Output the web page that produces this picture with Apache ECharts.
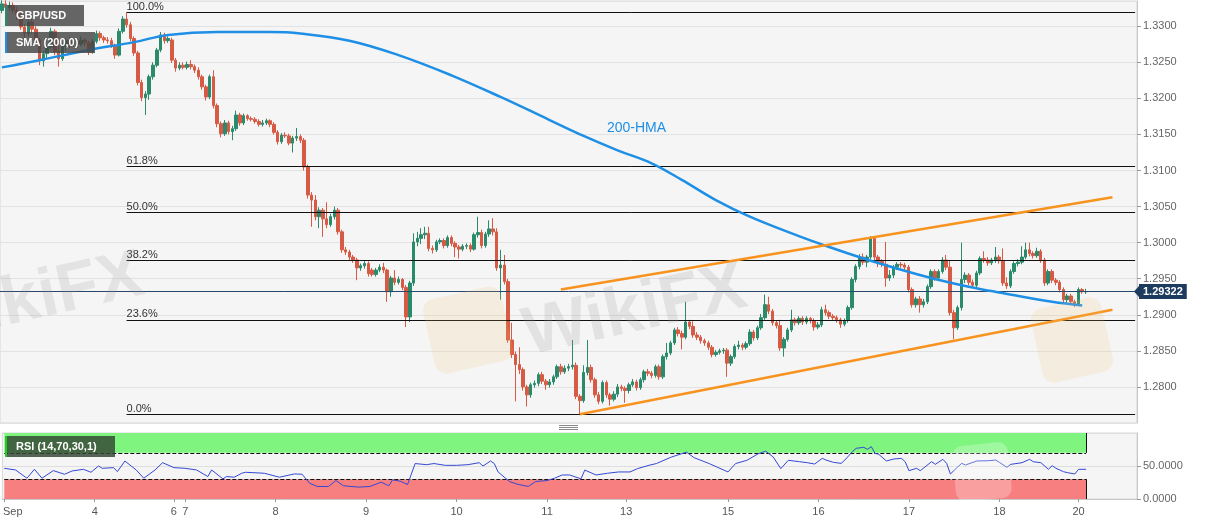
<!DOCTYPE html>
<html><head><meta charset="utf-8">
<script src="https://cdn.jsdelivr.net/npm/echarts@6/dist/echarts.min.js"></script>
<style>html,body{margin:0;padding:0;background:#fff}#c{width:1207px;height:526px}</style>
</head><body><div id="c"></div>
<script>
// Hourly GBP/USD candles: [open, close, low, high]
const candlesSep3to4 = [
[1.3322,1.3331,1.3318,1.3336],[1.3331,1.3326,1.3322,1.3336],[1.3326,1.3329,1.3321,1.3334],[1.3329,1.3322,1.3318,1.3333],
[1.3322,1.3316,1.3309,1.3327],[1.3316,1.3299,1.3295,1.3320],[1.3299,1.3290,1.3284,1.3303],[1.3290,1.3306,1.3286,1.3310],
[1.3306,1.3296,1.3290,1.3313],[1.3296,1.3281,1.3276,1.3300],[1.3281,1.3252,1.3246,1.3284],[1.3252,1.3262,1.3244,1.3266],
[1.3262,1.3271,1.3255,1.3275],[1.3271,1.3293,1.3268,1.3298],[1.3293,1.3265,1.3260,1.3296],[1.3265,1.3255,1.3244,1.3283],
[1.3255,1.3272,1.3252,1.3277],[1.3272,1.3280,1.3266,1.3284],[1.3280,1.3276,1.3270,1.3285],[1.3276,1.3279,1.3272,1.3283],
[1.3279,1.3275,1.3270,1.3282],[1.3275,1.3281,1.3272,1.3286],[1.3281,1.3277,1.3272,1.3284],[1.3277,1.3264,1.3260,1.3280],
[1.3264,1.3279,1.3262,1.3282],[1.3279,1.3290,1.3276,1.3294],[1.3290,1.3284,1.3280,1.3293],[1.3284,1.3281,1.3277,1.3287],
[1.3281,1.3280,1.3276,1.3285],[1.3280,1.3273,1.3270,1.3284],[1.3273,1.3260,1.3255,1.3276],[1.3260,1.3293,1.3258,1.3297],
[1.3293,1.3310,1.3290,1.3314],[1.3310,1.3302,1.3298,1.3319],[1.3302,1.3283,1.3279,1.3306],[1.3283,1.3263,1.3259,1.3286],
[1.3263,1.3222,1.3218,1.3266],[1.3222,1.3201,1.3196,1.3226],[1.3201,1.3206,1.3177,1.3210],[1.3206,1.3230,1.3198,1.3233],
[1.3230,1.3246,1.3226,1.3250],[1.3246,1.3267,1.3243,1.3270],[1.3267,1.3288,1.3264,1.3292],[1.3288,1.3280,1.3276,1.3291],
[1.3280,1.3283,1.3277,1.3286]
];
const candlesSep6to11 = [
[1.3281,1.3253,1.3249,1.3284],[1.3253,1.3242,1.3237,1.3256],[1.3242,1.3246,1.3239,1.3250],[1.3246,1.3243,1.3240,1.3250],
[1.3243,1.3247,1.3240,1.3251],[1.3247,1.3244,1.3240,1.3253],[1.3244,1.3239,1.3235,1.3247],[1.3239,1.3230,1.3226,1.3243],
[1.3230,1.3216,1.3212,1.3233],[1.3216,1.3202,1.3197,1.3219],[1.3202,1.3230,1.3199,1.3233],[1.3230,1.3190,1.3186,1.3239],
[1.3190,1.3165,1.3160,1.3193],[1.3165,1.3151,1.3146,1.3168],[1.3151,1.3166,1.3148,1.3170],[1.3166,1.3154,1.3150,1.3169],
[1.3154,1.3158,1.3142,1.3162],[1.3158,1.3177,1.3155,1.3183],[1.3177,1.3166,1.3162,1.3180],[1.3166,1.3176,1.3163,1.3179],
[1.3176,1.3172,1.3169,1.3178],[1.3172,1.3171,1.3168,1.3175],[1.3171,1.3168,1.3165,1.3174],[1.3168,1.3164,1.3161,1.3171],
[1.3164,1.3166,1.3161,1.3170],[1.3166,1.3169,1.3163,1.3172],[1.3169,1.3164,1.3160,1.3171],[1.3164,1.3153,1.3150,1.3167],
[1.3153,1.3140,1.3136,1.3156],[1.3140,1.3149,1.3137,1.3152],[1.3149,1.3148,1.3145,1.3153],[1.3148,1.3138,1.3135,1.3151],
[1.3138,1.3145,1.3125,1.3148],[1.3145,1.3147,1.3141,1.3159],[1.3147,1.3142,1.3138,1.3150],[1.3142,1.3105,1.3100,1.3145],
[1.3105,1.3066,1.3061,1.3108],[1.3066,1.3059,1.3022,1.3070],[1.3059,1.3036,1.3031,1.3066],[1.3036,1.3045,1.3020,1.3049],
[1.3045,1.3033,1.3008,1.3048],[1.3033,1.3025,1.3020,1.3056],[1.3025,1.3036,1.3022,1.3040],[1.3036,1.3045,1.3032,1.3050],
[1.3045,1.3015,1.3011,1.3048],[1.3015,1.2990,1.2986,1.3018],[1.2990,1.2987,1.2983,1.2994],[1.2987,1.2980,1.2976,1.2990],
[1.2980,1.2976,1.2972,1.2983],[1.2976,1.2965,1.2948,1.2979],[1.2965,1.2968,1.2961,1.2971],[1.2968,1.2971,1.2964,1.2975],
[1.2971,1.2957,1.2953,1.2974],[1.2962,1.2956,1.2953,1.2965],[1.2956,1.2962,1.2953,1.2965],[1.2962,1.2966,1.2959,1.2970],
[1.2966,1.2962,1.2958,1.2972],[1.2962,1.2932,1.2918,1.2964],[1.2932,1.2951,1.2925,1.2954],[1.2951,1.2945,1.2941,1.2962],
[1.2945,1.2949,1.2942,1.2953],[1.2949,1.2938,1.2934,1.2951],[1.2938,1.2897,1.2883,1.2941],[1.2897,1.2944,1.2890,1.2947],
[1.2944,1.3001,1.2940,1.3013],[1.3001,1.3006,1.2995,1.3015],[1.3006,1.3011,1.2998,1.3020],[1.3011,1.3013,1.3005,1.3022],
[1.3013,1.2992,1.2988,1.3022],[1.2992,1.2990,1.2985,1.2996],[1.2990,1.3001,1.2987,1.3004],[1.3001,1.3003,1.2998,1.3006],
[1.3003,1.2996,1.2992,1.3006],[1.2996,1.3007,1.2993,1.3010],[1.3007,1.2999,1.2995,1.3010],[1.2999,1.2994,1.2980,1.3002],
[1.2994,1.2991,1.2978,1.2997],[1.2991,1.2995,1.2988,1.2998],[1.2995,1.2996,1.2991,1.2999],[1.2996,1.2991,1.2987,1.2999],
[1.2991,1.3011,1.2989,1.3014],[1.3011,1.3014,1.3007,1.3036],[1.3014,1.2996,1.2992,1.3018],[1.2996,1.3012,1.2993,1.3015],
[1.3012,1.3019,1.3008,1.3031],[1.3019,1.3015,1.3010,1.3034],[1.3015,1.2965,1.2961,1.3020],[1.2965,1.2969,1.2921,1.2990],
[1.2969,1.2946,1.2942,1.2983],[1.2946,1.2865,1.2861,1.2950],[1.2865,1.2845,1.2840,1.2889],[1.2845,1.2831,1.2780,1.2849],
[1.2831,1.2824,1.2818,1.2855],[1.2824,1.2800,1.2795,1.2827],[1.2800,1.2789,1.2773,1.2803],[1.2789,1.2803,1.2785,1.2806],
[1.2803,1.2805,1.2799,1.2809],[1.2805,1.2817,1.2801,1.2820],[1.2817,1.2808,1.2804,1.2821],[1.2808,1.2803,1.2796,1.2811],
[1.2803,1.2807,1.2799,1.2811],[1.2807,1.2814,1.2803,1.2817],[1.2814,1.2828,1.2811,1.2831],[1.2828,1.2821,1.2817,1.2832],
[1.2821,1.2826,1.2818,1.2830],[1.2826,1.2828,1.2822,1.2832],[1.2828,1.2830,1.2824,1.2865],[1.2830,1.2787,1.2783,1.2834],
[1.2787,1.2781,1.2762,1.2790],[1.2781,1.2820,1.2778,1.2830],[1.2820,1.2827,1.2816,1.2865],[1.2827,1.2810,1.2806,1.2831],
[1.2810,1.2789,1.2785,1.2813],[1.2789,1.2780,1.2776,1.2793],[1.2780,1.2806,1.2777,1.2809],[1.2806,1.2789,1.2785,1.2809],
[1.2789,1.2783,1.2774,1.2792],[1.2783,1.2790,1.2780,1.2794],[1.2790,1.2800,1.2786,1.2804],[1.2800,1.2798,1.2794,1.2803]
];
const candlesSep13to18 = [
[1.2798,1.2795,1.2778,1.2801],[1.2795,1.2803,1.2791,1.2806],[1.2803,1.2807,1.2800,1.2811],[1.2807,1.2799,1.2795,1.2810],
[1.2799,1.2810,1.2796,1.2813],[1.2810,1.2821,1.2806,1.2824],[1.2821,1.2819,1.2815,1.2825],[1.2819,1.2816,1.2812,1.2822],
[1.2816,1.2828,1.2813,1.2831],[1.2828,1.2814,1.2810,1.2831],[1.2814,1.2842,1.2811,1.2845],[1.2842,1.2847,1.2838,1.2861],
[1.2847,1.2861,1.2844,1.2864],[1.2861,1.2879,1.2858,1.2882],[1.2879,1.2874,1.2870,1.2883],[1.2874,1.2869,1.2852,1.2878],
[1.2869,1.2890,1.2866,1.2918],[1.2890,1.2884,1.2880,1.2893],[1.2884,1.2872,1.2868,1.2891],[1.2872,1.2869,1.2865,1.2876],
[1.2869,1.2864,1.2860,1.2872],[1.2864,1.2861,1.2857,1.2867],[1.2861,1.2855,1.2851,1.2864],[1.2855,1.2845,1.2841,1.2858],
[1.2845,1.2848,1.2842,1.2851],[1.2848,1.2850,1.2845,1.2853],[1.2850,1.2851,1.2846,1.2854],[1.2851,1.2833,1.2814,1.2854],
[1.2833,1.2842,1.2829,1.2845],[1.2842,1.2856,1.2839,1.2859],[1.2856,1.2858,1.2852,1.2864],[1.2858,1.2855,1.2851,1.2861],
[1.2855,1.2860,1.2852,1.2863],[1.2860,1.2876,1.2857,1.2880],[1.2876,1.2868,1.2864,1.2879],[1.2868,1.2882,1.2865,1.2885],
[1.2882,1.2896,1.2879,1.2901],[1.2896,1.2914,1.2893,1.2928],[1.2914,1.2905,1.2901,1.2925],[1.2905,1.2889,1.2885,1.2908],
[1.2889,1.2885,1.2881,1.2892],[1.2885,1.2854,1.2850,1.2893],[1.2854,1.2866,1.2842,1.2869],[1.2866,1.2879,1.2863,1.2882],
[1.2879,1.2893,1.2876,1.2907],[1.2893,1.2889,1.2885,1.2896],[1.2889,1.2895,1.2886,1.2898],[1.2895,1.2890,1.2886,1.2898],
[1.2890,1.2895,1.2887,1.2898],[1.2895,1.2892,1.2888,1.2897],[1.2892,1.2883,1.2878,1.2895],[1.2883,1.2886,1.2880,1.2890],
[1.2886,1.2907,1.2883,1.2911],[1.2907,1.2903,1.2899,1.2914],[1.2903,1.2898,1.2894,1.2906],[1.2898,1.2896,1.2892,1.2901],
[1.2896,1.2893,1.2889,1.2899],[1.2893,1.2887,1.2882,1.2896],[1.2887,1.2892,1.2884,1.2895],[1.2892,1.2910,1.2889,1.2913],
[1.2910,1.2949,1.2907,1.2952],[1.2949,1.2967,1.2945,1.2970],[1.2967,1.2980,1.2963,1.2984],[1.2980,1.2973,1.2969,1.2985],
[1.2973,1.2980,1.2966,1.2983],[1.2980,1.3006,1.2977,1.3009],[1.3006,1.2980,1.2976,1.3008],[1.2980,1.2974,1.2966,1.2983],
[1.2974,1.2970,1.2966,1.2977],[1.2970,1.2951,1.2939,1.3001],[1.2951,1.2955,1.2947,1.2962],[1.2955,1.2966,1.2951,1.2969],
[1.2966,1.2970,1.2962,1.2973],[1.2970,1.2969,1.2965,1.2973],[1.2969,1.2966,1.2962,1.2972],[1.2966,1.2935,1.2931,1.2969],
[1.2935,1.2914,1.2910,1.2938],[1.2914,1.2922,1.2910,1.2925],[1.2922,1.2914,1.2903,1.2926],[1.2914,1.2918,1.2910,1.2922],
[1.2918,1.2939,1.2915,1.2942],[1.2939,1.2960,1.2936,1.2963],[1.2960,1.2951,1.2947,1.2963],[1.2951,1.2960,1.2948,1.2963],
[1.2960,1.2976,1.2957,1.2980],[1.2976,1.2966,1.2962,1.2983],[1.2966,1.2903,1.2899,1.2975],[1.2903,1.2882,1.2866,1.2907],
[1.2882,1.2910,1.2879,1.2913],[1.2910,1.2949,1.2906,1.3000],[1.2949,1.2955,1.2944,1.2959],[1.2955,1.2945,1.2941,1.2958],
[1.2945,1.2941,1.2937,1.2949],[1.2941,1.2958,1.2938,1.2961],[1.2958,1.2978,1.2955,1.2981],[1.2978,1.2976,1.2972,1.2988],
[1.2976,1.2972,1.2968,1.2980],[1.2972,1.2976,1.2969,1.2979],[1.2976,1.2980,1.2972,1.2994],[1.2980,1.2975,1.2971,1.2983],
[1.2975,1.2944,1.2940,1.2992],[1.2944,1.2940,1.2936,1.2952],[1.2940,1.2960,1.2937,1.2963],[1.2960,1.2971,1.2957,1.2974],
[1.2971,1.2973,1.2967,1.2977],[1.2973,1.2980,1.2970,1.2995],[1.2980,1.2990,1.2977,1.3000],[1.2990,1.2985,1.2981,1.3000],
[1.2985,1.2982,1.2978,1.2988],[1.2982,1.2988,1.2979,1.2993],[1.2988,1.2976,1.2972,1.2991],[1.2976,1.2944,1.2940,1.2979],
[1.2944,1.2960,1.2941,1.2963],[1.2960,1.2948,1.2944,1.2963],[1.2948,1.2945,1.2941,1.2951],[1.2945,1.2935,1.2931,1.2948],
[1.2935,1.2921,1.2917,1.2938],[1.2921,1.2926,1.2915,1.2929],[1.2926,1.2918,1.2914,1.2929],[1.2918,1.2915,1.2911,1.2921]
];
const candlesSep20 = [
[1.2915,1.2935,1.2912,1.2938],[1.2935,1.2932,1.2929,1.2937],[1.2932,1.29322,1.2929,1.2936]
];

// x-axis tick labels: [text, candle index]
const tickLabels = [['Sep',0],['4',24],['6',45],['7',48],['8',72],['9',96],['10',120],['11',144],['13',165],['15',192],['16',216],['17',240],['18',264],['20',285]];
const totalSlots = 301;

// 200-HMA line [candle index, price]
const hmaPoints = [[0,1.3243],[10,1.3253],[23,1.3267],[35,1.3278],[44,1.3288],[57,1.3292],[71,1.3292],[79,1.3290],[92,1.3280],[105,1.3260],
[119,1.3232],[132,1.3202],[145,1.3170],[154,1.3148],[163,1.3128],[172,1.3110],[180,1.3087],[189,1.3059],[198,1.3036],[211,1.3009],
[219,1.2994],[230,1.2975],[246,1.2951],[256,1.2939],[264,1.2931],[278,1.2918],[286,1.2913]];
const hmaLabel = ['200-HMA', 168, 1.3159];

// RSI(14) [candle index, value]
const rsiPoints = [[0,46.5],[3,44],[6,31.5],[8,45],[10,31.5],[13,43],[16,37.5],[18,42.5],[21,45],[23,40.5],[25,50],[26,46.5],[29,47.5],[30,41.5],
[32,57.5],[35,44],[37,31.5],[40,44],[42,55],[45,47.5],[48,46.5],[51,44],[54,34],[55,44],[58,30.5],[59,34],[61,33],[63,39],[64,40.5],[69,39],
[73,33],[77,38],[79,37.5],[81,24],[83,19],[86,19],[88,28],[90,20],[94,18],[97,19],[100,25.5],[102,20],[103,29],[105,27],[107,22],[108,38],
[109,53.7],[112,52],[114,53.7],[117,51],[120,51],[123,52],[126,55],[127,50],[129,57.6],[130,53.7],[131,41],[134,26.5],[136,22.6],[139,19],
[141,26.5],[144,28],[146,31.5],[148,36.4],[150,36.4],[153,30.5],[154,43.8],[157,36.4],[160,39],[163,41],[166,41],[168,46],[171,51],[173,53.7],
[177,63.6],[181,71],[183,62.6],[187,53.7],[192,41],[194,53.7],[197,58.6],[200,68.5],[202,72.5],[204,63.6],[206,46],[208,58.6],[211,56.5],
[213,55],[215,53],[217,61.6],[218,59],[220,55.5],[222,54],[223,59],[225,71.7],[226,76.8],[228,78.3],[229,75.3],[230,79.3],[231,69.2],[232,67.7],
[234,57.6],[236,60.6],[238,61.6],[239,56.5],[240,42.9],[242,46.5],[243,42.9],[246,56.5],[247,52.5],[249,60.1],[250,54],[251,37.9],[253,49],
[254,54],[255,51.5],[258,57.6],[261,58],[263,59],[264,55.5],[266,48],[267,52.5],[270,55],[272,60.1],[273,56.5],[275,55],[277,45],[278,50.5],
[279,46.5],[281,41.4],[282,40],[284,37.9],[285,45],[287,45]];

const fibLevels = [1.3319, 1.3106, 1.3042, 1.2975, 1.2893, 1.2762];
const fibLabels = ['100.0%', '61.8%', '50.0%', '38.2%', '23.6%', '0.0%'];
const fibStartIndex = 33;
const channelUpper = [[148, 1.2935], [294, 1.3063]];
const channelLower = [[153, 1.2762], [294, 1.2907]];
const lastPrice = 1.29322;
const rsiOverbought = 70, rsiOversold = 30;

const candles = candlesSep3to4.concat(candlesSep6to11, candlesSep13to18, candlesSep20);
const lastIdx = candles.length - 1;
const categories = Array.from({length: totalSlots}, (_, i) => String(i));
const tickMap = {};
tickLabels.forEach(([t, i]) => { tickMap[i] = t; });
const isTick = (i) => tickMap[i] !== undefined;

const FONT = "'Liberation Sans', Arial, sans-serif";
const UP = '#2a8a6c', DOWN = '#d75b44';

const fibMark = fibLevels.map((lv, k) => [
  {name: fibLabels[k], coord: [fibStartIndex, lv]},
  {coord: [totalSlots - 1, lv]}
]);

const chart = echarts.init(document.getElementById('c'), null, {renderer: 'canvas'});
chart.setOption({
  animation: false,
  backgroundColor: '#ffffff',
  textStyle: {fontFamily: FONT},
  grid: [
    {left: 0, right: 70, top: 1, height: 422, show: true, backgroundColor: '#f5f5f5', borderColor: '#d6d6d6', borderWidth: 1},
    {left: 0, right: 70, top: 433, height: 66, show: true, backgroundColor: '#f5f5f5', borderColor: '#d6d6d6', borderWidth: 1}
  ],
  xAxis: [
    {type: 'category', gridIndex: 0, data: categories, boundaryGap: true,
     axisLine: {show: false}, axisTick: {show: false}, axisLabel: {show: false}, splitLine: {show: false}},
    {type: 'category', gridIndex: 1, data: categories, boundaryGap: true,
     axisLine: {show: true, lineStyle: {color: '#c8c8c8'}},
     axisTick: {show: true, alignWithLabel: true, interval: isTick, length: 3, lineStyle: {color: '#999'}},
     axisLabel: {interval: isTick, color: '#555', fontSize: 11, fontFamily: FONT, margin: 7,
       formatter: (v, i) => i === 0 ? '{s|' + tickMap[i] + '}' : (tickMap[i] || ''),
       rich: {s: {padding: [0, 0, 0, 17], fontSize: 11, color: '#555', fontFamily: FONT}}},
     splitLine: {show: false}}
  ],
  yAxis: [
    {type: 'value', gridIndex: 0, position: 'right', min: 1.2750, max: 1.3335, interval: 0.005, scale: true,
     axisLine: {show: true, lineStyle: {color: '#c8c8c8'}},
     axisTick: {show: true, length: 4, lineStyle: {color: '#999'}},
     axisLabel: {formatter: v => v.toFixed(4), color: '#666', fontSize: 11, fontFamily: FONT, margin: 6, showMinLabel: false, showMaxLabel: false},
     splitLine: {show: true, lineStyle: {color: '#e2e2e2', width: 1}}},
    {type: 'value', gridIndex: 1, position: 'right', min: 0, max: 100, interval: 50,
     axisLine: {show: true, lineStyle: {color: '#c8c8c8'}},
     axisTick: {show: true, length: 4, lineStyle: {color: '#999'}},
     axisLabel: {formatter: v => v.toFixed(4), color: '#666', fontSize: 11, fontFamily: FONT, margin: 6, showMaxLabel: false},
     splitLine: {show: true, lineStyle: {color: '#dedede'}}}
  ],
  series: [
    {type: 'candlestick', xAxisIndex: 0, yAxisIndex: 0, data: candles, barWidth: 3, z: 3,
     itemStyle: {color: UP, color0: DOWN, borderColor: UP, borderColor0: DOWN, borderWidth: 1},
     markLine: {silent: true, symbol: ['none', 'none'], animation: false, precision: 5,
       lineStyle: {color: '#111', width: 1, type: 'solid'},
       label: {show: true, position: 'insideStartTop', formatter: '{b}', color: '#333', fontSize: 11, fontFamily: FONT, distance: 0},
       emphasis: {disabled: true},
       data: fibMark}},
    {type: 'line', xAxisIndex: 0, yAxisIndex: 0, data: hmaPoints, smooth: 0.4, showSymbol: false, z: 5,
     lineStyle: {color: '#1f8fe6', width: 2.5},
     markPoint: {silent: true, symbol: 'circle', symbolSize: 0, animation: false,
       label: {show: true, position: 'inside', formatter: hmaLabel[0], color: '#1f8fe6', fontSize: 14, fontFamily: FONT},
       data: [{coord: [hmaLabel[1], hmaLabel[2]]}]},
     markLine: {silent: true, symbol: ['none', 'none'], animation: false, precision: 5,
       lineStyle: {color: '#28476a', width: 1, type: 'solid'},
       label: {show: true, position: 'end', formatter: lastPrice.toFixed(5), color: '#fff', fontWeight: 'bold', fontSize: 11, fontFamily: FONT,
         backgroundColor: '#1d3b5e', padding: [2, 4, 2, 4], distance: 2},
       data: [{yAxis: lastPrice}]}},
    {type: 'line', xAxisIndex: 0, yAxisIndex: 0, data: channelUpper, showSymbol: false, z: 6,
     lineStyle: {color: '#f7931e', width: 2.5}},
    {type: 'line', xAxisIndex: 0, yAxisIndex: 0, data: channelLower, showSymbol: false, z: 6,
     lineStyle: {color: '#f7931e', width: 2.5}},
    {type: 'line', xAxisIndex: 1, yAxisIndex: 1, data: rsiPoints, showSymbol: false, z: 5,
     lineStyle: {color: '#3448d4', width: 1},
     markArea: {silent: true, animation: false,
       data: [
         [{coord: [0, rsiOverbought], itemStyle: {color: '#7ff57f'}}, {coord: [lastIdx, 100]}],
         [{coord: [0, 0], itemStyle: {color: '#f77f7f'}}, {coord: [lastIdx, rsiOversold]}]
       ]},
     markLine: {silent: true, symbol: ['none', 'none'], animation: false, label: {show: false},
       lineStyle: {color: '#111', width: 1, type: 'dashed'},
       data: [
         [{coord: [0, rsiOverbought]}, {coord: [lastIdx, rsiOverbought]}],
         [{coord: [0, rsiOversold]}, {coord: [lastIdx, rsiOversold]}],
         [{coord: [lastIdx, rsiOverbought], lineStyle: {type: 'solid'}}, {coord: [lastIdx, 100]}],
         [{coord: [lastIdx, 0], lineStyle: {type: 'solid'}}, {coord: [lastIdx, rsiOversold]}]
       ]}}
  ],
  graphic: [
    // watermarks
    {type: 'text', x: 635, y: 312, rotation: 0.22, z: 100, silent: true,
     style: {text: 'WikiFX', font: "bold 68px 'Liberation Sans', Arial", fill: 'rgba(150,150,150,0.2)', textAlign: 'center', textVerticalAlign: 'middle'}},
    {type: 'text', x: 32, y: 300, rotation: 0.22, z: 100, silent: true,
     style: {text: 'WikiFX', font: "bold 68px 'Liberation Sans', Arial", fill: 'rgba(150,150,150,0.18)', textAlign: 'center', textVerticalAlign: 'middle'}},
    {type: 'rect', x: 468, y: 330, rotation: 0.22, z: 99, silent: true, shape: {x: -40, y: -38, width: 80, height: 76, r: 12},
     style: {fill: 'rgba(245,200,110,0.16)'}},
    {type: 'rect', x: 1072, y: 340, rotation: 0.22, z: 99, silent: true, shape: {x: -36, y: -38, width: 72, height: 76, r: 12},
     style: {fill: 'rgba(245,200,110,0.16)'}},
    {type: 'rect', x: 982, y: 472, rotation: 0.1, z: 99, silent: true, shape: {x: -28, y: -28, width: 56, height: 56, r: 10},
     style: {fill: 'rgba(255,255,255,0.25)'}},
    // legend boxes
    {type: 'rect', z: 110, shape: {x: 5, y: 5, width: 79, height: 21}, style: {fill: 'rgba(70,70,70,0.82)'}},
    {type: 'rect', z: 111, shape: {x: 5, y: 5, width: 2, height: 21}, style: {fill: UP}},
    {type: 'text', z: 112, x: 16, y: 16, style: {text: 'GBP/USD', font: "bold 11px 'Liberation Sans', Arial", fill: '#fff', textVerticalAlign: 'middle'}},
    {type: 'rect', z: 110, shape: {x: 5, y: 32, width: 90, height: 21}, style: {fill: 'rgba(70,70,70,0.82)'}},
    {type: 'rect', z: 111, shape: {x: 5, y: 32, width: 2, height: 21}, style: {fill: '#1f8fe6'}},
    {type: 'text', z: 112, x: 16, y: 43, style: {text: 'SMA (200,0)', font: "bold 11px 'Liberation Sans', Arial", fill: '#fff', textVerticalAlign: 'middle'}},
    {type: 'rect', z: 110, shape: {x: 5, y: 436, width: 110, height: 21}, style: {fill: 'rgba(50,70,50,0.82)'}},
    {type: 'rect', z: 111, shape: {x: 5, y: 436, width: 2, height: 21}, style: {fill: '#22cc22'}},
    {type: 'text', z: 112, x: 16, y: 447, style: {text: 'RSI (14,70,30,1)', font: "bold 11px 'Liberation Sans', Arial", fill: '#fff', textVerticalAlign: 'middle'}},
    // price tag arrow
    {type: 'polygon', z: 120, shape: {points: [[1134, 291.6], [1139, 286], [1139, 297]]}, style: {fill: '#1d3b5e'}},
    // panel resize handle
    {type: 'rect', z: 110, shape: {x: 559, y: 425, width: 19, height: 1}, style: {fill: '#888'}},
    {type: 'rect', z: 110, shape: {x: 559, y: 427, width: 19, height: 1}, style: {fill: '#888'}},
    {type: 'rect', z: 110, shape: {x: 559, y: 429, width: 19, height: 1}, style: {fill: '#888'}}
  ]
});
</script>
</body></html>
